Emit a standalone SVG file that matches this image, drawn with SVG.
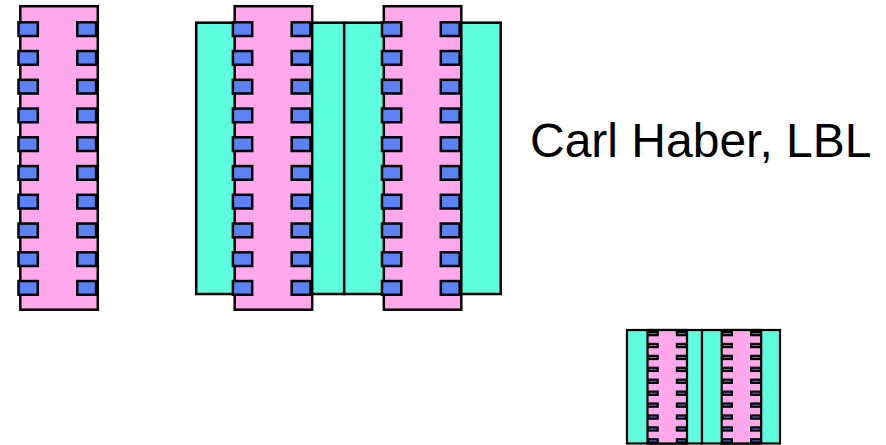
<svg xmlns="http://www.w3.org/2000/svg" xmlns:xlink="http://www.w3.org/1999/xlink" width="886" height="445" viewBox="0 0 886 445">
<style>
.pink{fill:#FFA8EB;stroke:#000;stroke-width:2.5}
.cyan{fill:#5DFDE0;stroke:#000;stroke-width:2.5}
.pad{fill:#5A82F5;stroke:#000;stroke-width:2.5}
.cyans{fill:#5DFDE0;stroke:#000;stroke-width:2.2}
.pinks{fill:#FFA8EB;stroke:#000;stroke-width:2.2}
.pads{fill:#5A82F5;stroke:#000;stroke-width:2.2}
.label{font-family:"Liberation Sans",Arial,Helvetica,sans-serif;font-size:48px;fill:#000}
</style>
<defs>
<g id="padrow">
<rect class="pad" x="-1.8" y="0" width="19.3" height="13.7"/>
<rect class="pad" x="57" y="0" width="18.8" height="13.7"/>
</g>
<g id="chip">
<rect class="pink" x="0" y="0" width="77.5" height="303.5"/>
<use xlink:href="#padrow" y="16.1"/>
<use xlink:href="#padrow" y="44.85"/>
<use xlink:href="#padrow" y="73.6"/>
<use xlink:href="#padrow" y="102.35"/>
<use xlink:href="#padrow" y="131.1"/>
<use xlink:href="#padrow" y="159.85"/>
<use xlink:href="#padrow" y="188.6"/>
<use xlink:href="#padrow" y="217.35"/>
<use xlink:href="#padrow" y="246.1"/>
<use xlink:href="#padrow" y="274.85"/>
</g>
<g id="padrows">
<rect class="pads" x="0.6" y="0" width="9.6" height="3.2"/>
<rect class="pads" x="29.4" y="0" width="9.6" height="3.2"/>
</g>
<g id="chips">
<rect class="pinks" x="0" y="0" width="39.5" height="113.5"/>
<use xlink:href="#padrows" y="2"/>
<use xlink:href="#padrows" y="13.92"/>
<use xlink:href="#padrows" y="25.84"/>
<use xlink:href="#padrows" y="37.76"/>
<use xlink:href="#padrows" y="49.68"/>
<use xlink:href="#padrows" y="61.6"/>
<use xlink:href="#padrows" y="73.52"/>
<use xlink:href="#padrows" y="85.44"/>
<use xlink:href="#padrows" y="97.36"/>
<use xlink:href="#padrows" y="109.28"/>
</g>
</defs>

<g id="chip-single">
<use xlink:href="#chip" transform="translate(20.3,6.2)"/>
</g>

<g id="module-1">
<rect class="cyan" x="196.2" y="22.7" width="148" height="271.3"/>
<use xlink:href="#chip" transform="translate(234.7,6.2)"/>
</g>

<g id="module-2">
<rect class="cyan" x="344.2" y="22.7" width="156.5" height="271.3"/>
<use xlink:href="#chip" transform="translate(383.8,6.2)"/>
</g>

<g id="small-module">
<rect class="cyans" x="627" y="330" width="75" height="113.5"/>
<rect class="cyans" x="702" y="330" width="78" height="113.5"/>
<use xlink:href="#chips" transform="translate(647.5,330)"/>
<use xlink:href="#chips" transform="translate(721.7,330)"/>
</g>

<g id="label">
<text class="label" x="530" y="157">Carl Haber, LBL</text>
</g>

<g id="connectors"/>
</svg>
